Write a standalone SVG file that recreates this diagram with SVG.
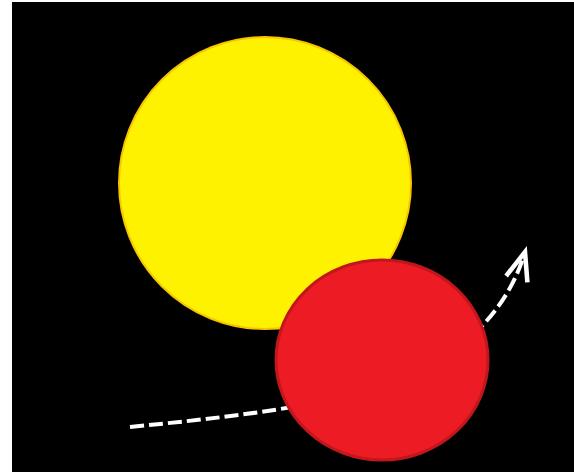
<svg xmlns="http://www.w3.org/2000/svg" width="574" height="472" viewBox="0 0 574 472">
<style>
.conn{fill:none;stroke:#fff;stroke-width:4;stroke-dasharray:14 5}
</style>
<defs>
<marker id="ah" markerUnits="userSpaceOnUse" markerWidth="40" markerHeight="40" viewBox="-30 -15 35 30" refX="0" refY="0" orient="auto">
<path d="M-23,-9 L0,0 L-23,9" fill="none" stroke="#fff" stroke-width="4" stroke-linecap="square"/>
</marker>
</defs>
<rect x="0" y="0" width="574" height="472" fill="#fff"/>
<rect x="12" y="2" width="562" height="470" fill="#000"/>
<g id="connectors">
<path class="conn" d="M130,427 C300,410 420,395 483,325 C500,306 515,285 525,252" marker-end="url(#ah)"/>
</g>
<g id="sun">
<circle cx="265" cy="183" r="146" fill="#FFF200" stroke="#F6C400" stroke-width="2"/>
</g>
<g id="planet">
<ellipse cx="382" cy="360" rx="106" ry="100" fill="#ED1C24" stroke="#C1161C" stroke-width="3"/>
</g>
</svg>
